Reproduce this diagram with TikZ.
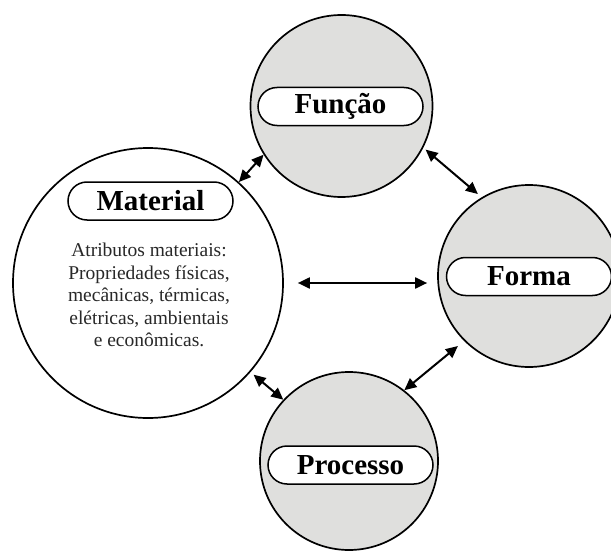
\documentclass[tikz,border=0pt]{standalone}
\usepackage{fontspec}
\setmainfont{Liberation Serif}
\usetikzlibrary{arrows.meta}
\definecolor{disc}{RGB}{223,223,221}
\definecolor{bodytext}{RGB}{40,40,40}
\begin{document}
\begin{tikzpicture}[x=1pt,y=-1pt,
  ring/.style={circle, draw=black, line width=1.7pt, inner sep=0pt},
  pill/.style={draw=black, line width=1.5pt, fill=white, rounded corners=19pt,
    minimum width=165pt, minimum height=38pt, inner sep=0pt,
    font=\fontsize{29}{30}\selectfont\bfseries},
  link/.style={line width=2pt,
    {Triangle[length=12pt,width=11pt]}-{Triangle[length=12pt,width=11pt]}}]
\useasboundingbox (0,0) rectangle (611,551);
\begin{scope}
\clip (0,0) rectangle (611,551);
% circles
\node[ring, fill=white, minimum size=270pt] (mat) at (148,283) {};
\node[ring, fill=disc, minimum size=182pt] (fun) at (341.5,106) {};
\node[ring, fill=disc, minimum size=182pt] (for) at (529,276) {};
\node[ring, fill=disc, minimum size=178pt] (pro) at (349,461) {};
% labels
\node[pill] (matl) at (150.5,201) {Material};
\node[pill] (funl) at (340.5,106.5) {Função};
\node[pill] (forl) at (529,276.5) {Forma};
\node[pill] (prol) at (350.5,465) {Processo};
\node[align=center, font=\fontsize{19.5}{22.5}\selectfont, text=bodytext, inner sep=0pt]
  (attr) at (149,295) {Atributos materiais:\\Propriedades físicas,\\mecânicas, térmicas,\\elétricas, ambientais\\e econômicas.};
% connectors
\draw[link] (mat.48.6) -- (fun.212.8);
\draw[link, shorten <=3pt, shorten >=5pt] (fun.-27) -- (for.121);
\draw[link, shorten <=14pt, shorten >=10pt] (mat.east) -- (mat.east -| for.west);
\draw[link, shorten <=4pt] (mat.-41) -- (pro.137);
\draw[link, shorten >=8pt] (pro.52.5) -- (for.225);
\end{scope}
\end{tikzpicture}
\end{document}
